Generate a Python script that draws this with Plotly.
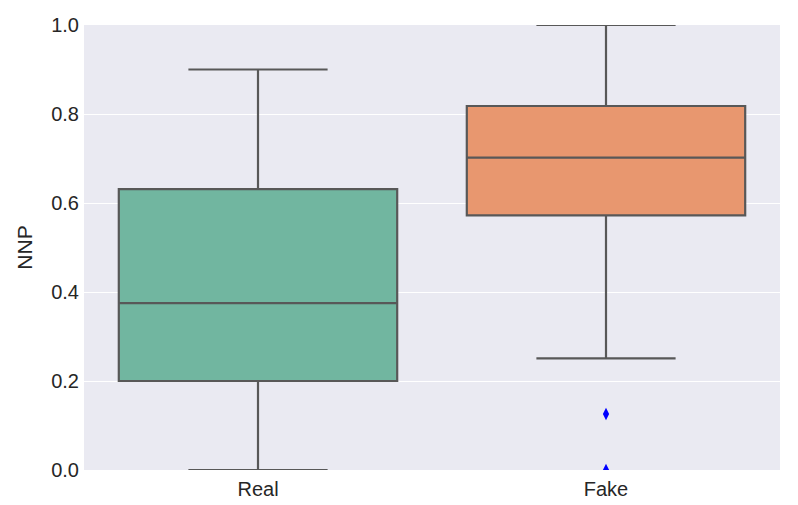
import plotly.graph_objects as go

# Box statistics
groups = ['Real', 'Fake']
q1 = [0.200, 0.572]
medians = [0.375, 0.702]
q3 = [0.631, 0.818]
lower = [0.0, 0.251]
upper = [0.900, 1.0]
fills = ['#71b6a0', '#e8976f']

# outliers for "Fake"
outlier_x = ['Fake', 'Fake']
outlier_y = [0.126, 0.0]

line_col = '#585858'

fig = go.Figure()

for i, g in enumerate(groups):
    fig.add_trace(go.Box(x=[g],
                         q1=[q1[i]],
                         median=[medians[i]],
                         q3=[q3[i]],
                         lowerfence=[lower[i]],
                         upperfence=[upper[i]],
                         fillcolor=fills[i],
                         line=dict(color=line_col, width=2.2),
                         width=0.8,
                         whiskerwidth=0.5,
                         boxpoints=False,
                         showlegend=False,
                         hoverinfo='skip'))

fig.add_trace(go.Scatter(x=outlier_x,
                         y=outlier_y,
                         mode='markers',
                         marker=dict(symbol='diamond-tall', size=9, color='blue',
                                     line=dict(width=0)),
                         showlegend=False))

# page body has an 8px margin, so the figure is a bit smaller than the window
fig.update_layout(width=790, height=497,
                  margin=dict(l=76, r=18, t=17, b=35, autoexpand=False),
                  paper_bgcolor='white',
                  plot_bgcolor='#eaeaf2',
                  boxmode='overlay',
                  font=dict(family='Liberation Sans, Arial', size=20, color='#262626'))
fig.update_xaxes(range=[-0.5, 1.5], showgrid=False, zeroline=False,
                 showline=False, ticks='', ticklabelstandoff=5,
                 tickfont=dict(size=20), automargin=False,
                 categoryorder='array', categoryarray=groups)
fig.update_yaxes(range=[0, 1.0], dtick=0.2, tickformat='.1f',
                 showgrid=True, gridcolor='white', gridwidth=1,
                 zeroline=False, showline=False, ticks='',
                 tickfont=dict(size=20), automargin=False, ticklabelstandoff=4,
                 title=dict(text='NNP', font=dict(size=21), standoff=12))

fig.write_html("out.html")
